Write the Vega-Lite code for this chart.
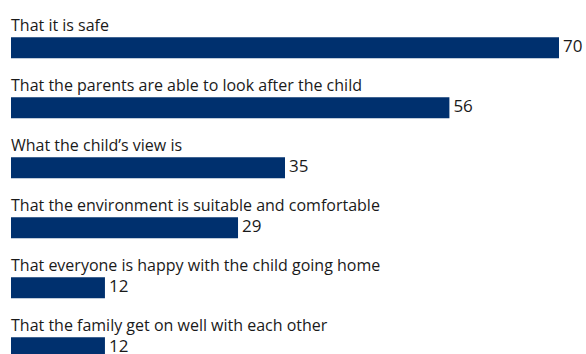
{
  "$schema": "https://vega.github.io/schema/vega-lite/v6.json",
  "autosize": "none",
  "width": 548,
  "height": 360,
  "padding": {"left": 11, "top": 0, "right": 27, "bottom": 0},
  "background": "white",
  "config": {"view": {"stroke": null}, "font": "Open Sans"},
  "data": {"values": [
    {"item": "That it is safe", "value": 70},
    {"item": "That the parents are able to look after the child", "value": 56},
    {"item": "What the child’s view is", "value": 35},
    {"item": "That the environment is suitable and comfortable", "value": 29},
    {"item": "That everyone is happy with the child going home", "value": 12},
    {"item": "That the family get on well with each other", "value": 12}
  ]},
  "encoding": {
    "y": {"field": "item", "type": "nominal", "sort": null, "axis": null,
          "scale": {"paddingInner": 0, "paddingOuter": 0}}
  },
  "layer": [
    {
      "mark": {"type": "bar", "height": 21, "yOffset": 17.8, "color": "#00306e"},
      "encoding": {
        "x": {"field": "value", "type": "quantitative", "axis": null,
              "scale": {"domain": [0, 70], "nice": false, "zero": true}}
      }
    },
    {
      "mark": {"type": "text", "align": "left", "baseline": "alphabetic", "yOffset": 0.5, "fontSize": 16, "color": "#1a1a1a"},
      "encoding": {
        "x": {"datum": 0, "type": "quantitative"},
        "text": {"field": "item"}
      }
    },
    {
      "mark": {"type": "text", "align": "left", "baseline": "middle", "dx": 4, "yOffset": 16.5, "fontSize": 17, "color": "#1a1a1a"},
      "encoding": {
        "x": {"field": "value", "type": "quantitative"},
        "text": {"field": "value"}
      }
    }
  ]
}
